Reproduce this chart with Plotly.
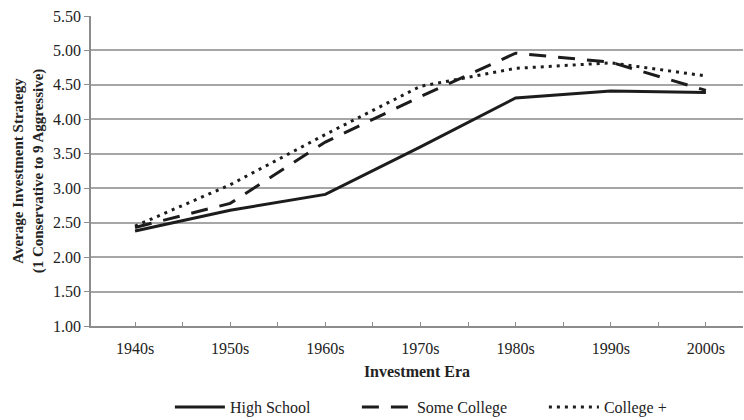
import plotly.graph_objects as go

eras = ["1940s", "1950s", "1960s", "1970s", "1980s", "1990s", "2000s"]
high_school = [2.38, 2.68, 2.91, 3.60, 4.31, 4.41, 4.39]
some_college = [2.43, 2.78, 3.67, 4.33, 4.96, 4.83, 4.42]
college_plus = [2.45, 3.05, 3.78, 4.48, 4.74, 4.82, 4.63]
y_ticks = [1.0, 1.5, 2.0, 2.5, 3.0, 3.5, 4.0, 4.5, 5.0, 5.5]

xi = list(range(len(eras)))
ink = "#1c1c1c"
txt = "#222222"
serif = "Liberation Serif, Times New Roman, serif"

fig = go.Figure()
fig.add_trace(go.Scatter(x=xi, y=high_school, mode="lines", name="High School",
                         line=dict(color=ink, width=3)))
fig.add_trace(go.Scatter(x=xi, y=some_college, mode="lines", name="Some College",
                         line=dict(color=ink, width=3, dash="17px,12px")))
fig.add_trace(go.Scatter(x=xi, y=college_plus, mode="lines", name="College +",
                         line=dict(color=ink, width=3, dash="3px,5px")))

fig.update_layout(
    width=744, height=420,
    margin=dict(l=91, r=1, t=16, b=94, autoexpand=False),
    paper_bgcolor="white", plot_bgcolor="white",
    font=dict(family=serif, size=16, color=txt),
    showlegend=True,
    legend=dict(orientation="h", x=0.121, xanchor="left", y=-0.262, yanchor="middle",
                font=dict(family=serif, size=16, color=txt), itemwidth=50,
                entrywidth=122, entrywidthmode="pixels",
                traceorder="normal"),
    xaxis=dict(
        range=[-0.463, 6.39],
        tickvals=xi, ticktext=eras,
        showgrid=False, zeroline=False, automargin=False,
        showline=True, linecolor="#8c8c8c", linewidth=2,
        ticks="inside", ticklen=4, tickcolor="#8c8c8c", tickwidth=1,
        minor=dict(dtick=0.5, tick0=0, ticks="inside", ticklen=4, tickcolor="#8c8c8c", tickwidth=1, showgrid=False),
        tickfont=dict(family=serif, size=16, color=txt),
        ticklabelstandoff=7,
        title=dict(text="<b>Investment Era</b>", font=dict(family=serif, size=16, color=txt), standoff=10),
    ),
    yaxis=dict(
        range=[1, 5.5],
        tickvals=y_ticks, ticktext=[f"{v:.2f}" for v in y_ticks],
        showgrid=True, gridcolor="#a6a6a6", gridwidth=1.5,
        zeroline=False, automargin=False,
        showline=True, linecolor="#8c8c8c", linewidth=1.5,
        ticks="outside", ticklen=5, tickcolor="#8c8c8c",
        tickfont=dict(family=serif, size=16, color=txt),
        title=dict(text="<b>Average Investment Strategy<br>(1 Conservative to 9 Aggressive)</b>",
                   font=dict(family=serif, size=15, color=txt), standoff=6),
    ),
)

fig.write_html(
    "out.html",
    config={"displayModeBar": False},
    post_script="document.documentElement.style.margin='0';document.body.style.margin='0';"
                "document.body.style.padding='0';document.body.style.overflow='hidden';",
)
